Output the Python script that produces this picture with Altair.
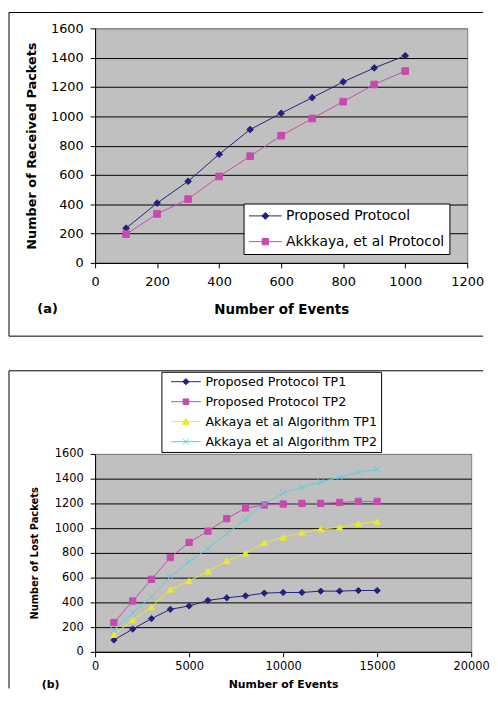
import altair as alt
import pandas as pd

# ---------------- data ----------------
events_a = [100, 200, 300, 400, 500, 600, 700, 800, 900, 1000]
proposed_a = [237, 408, 557, 741, 910, 1021, 1127, 1235, 1330, 1413]
akkkaya_a = [196, 334, 435, 590, 728, 868, 985, 1100, 1217, 1309]
series_a = ["Proposed Protocol", "Akkkaya, et al Protocol"]

events_b = [1000, 2000, 3000, 4000, 5000, 6000, 7000, 8000, 9000, 10000,
            11000, 12000, 13000, 14000, 15000]
prop_tp1_b = [96, 184, 269, 344, 371, 416, 437, 453, 475, 480, 480, 491, 491, 496, 496]
prop_tp2_b = [237, 411, 587, 763, 885, 976, 1077, 1163, 1187, 1195, 1200, 1200, 1208, 1216, 1216]
akk_tp1_b = [139, 256, 363, 504, 573, 651, 736, 797, 883, 925, 963, 992, 1008, 1037, 1053]
akk_tp2_b = [176, 315, 445, 608, 731, 835, 955, 1072, 1195, 1285, 1331, 1373, 1411, 1453, 1475]
series_b = ["Proposed Protocol TP1", "Proposed Protocol TP2",
            "Akkaya et al Algorithm TP1", "Akkaya et al Algorithm TP2"]

ticks_a_x = [0, 200, 400, 600, 800, 1000, 1200]
ticks_b_x = [0, 5000, 10000, 15000, 20000]
ticks_y = [0, 200, 400, 600, 800, 1000, 1200, 1400, 1600]
panel_labels = ["(a)", "(b)"]

# ---------------- styles ----------------
NAVY = "#22227A"
MAGENTA = "#C64BAF"
YELLOW = "#EAEA30"
CYAN = "#62C9DA"
FONT = "DejaVu Sans"

colors_a = [NAVY, MAGENTA]
colors_b = [NAVY, MAGENTA, YELLOW, CYAN]
fills_b = [NAVY, MAGENTA, YELLOW, "transparent"]
shapes_a = ["diamond", "square"]
XPATH = "M-1,-1L1,1M-1,1L1,-1"
shapes_b = ["diamond", "square", "triangle-up", XPATH]

# legend glyphs: a line with the series marker in the middle (unit = half symbol size)
LINE_A = "M-2.36,0L2.36,0"
leg_a_paths = [LINE_A + "M0,-0.5L0.5,0L0,0.5L-0.5,0Z",
               LINE_A + "M-0.45,-0.45L0.45,-0.45L0.45,0.45L-0.45,0.45Z"]
LINE_B = "M-2.4,0L2.4,0"
leg_b_paths = [LINE_B + "M0,-0.5L0.5,0L0,0.5L-0.5,0Z",
               LINE_B + "M-0.45,-0.45L0.45,-0.45L0.45,0.45L-0.45,0.45Z",
               LINE_B + "M0,-0.55L0.55,0.45L-0.55,0.45Z",
               LINE_B + "M-0.45,-0.45L0.45,0.45M-0.45,0.45L0.45,-0.45"]

df_a = pd.DataFrame({
    "events": events_a * 2,
    "value": proposed_a + akkkaya_a,
    "series": [series_a[0]] * len(events_a) + [series_a[1]] * len(events_a),
})
df_b = pd.DataFrame({
    "events": events_b * 4,
    "value": prop_tp1_b + prop_tp2_b + akk_tp1_b + akk_tp2_b,
    "series": sum([[s] * len(events_b) for s in series_b], []),
})

one = alt.Data(values=[{"k": 0}])


def grid_color():
    return {"condition": {"test": "datum.value === 1600", "value": "#808080"}, "value": "black"}


def rule(**enc):
    return alt.Chart(one).mark_rule(color="black", strokeWidth=1).encode(**enc)


def axis(values, title, lfs, tfs, grid, lpad, tpad):
    kw = dict(values=values, title=title, grid=grid, labelFont=FONT, labelFontSize=lfs,
              titleFont=FONT, titleFontSize=tfs, titleFontWeight="bold", tickSize=5,
              labelPadding=lpad, titlePadding=tpad, domainColor="black", tickColor="black",
              labelColor="black", titleColor="black", labelFlush=False, labelOverlap=False,
              format="d", tickCount=len(values))
    if grid:
        kw.update(gridColor=grid_color(), gridWidth=1)
    return alt.Axis(**kw)


def panel(df, series, colors, fills, shapes, leg_paths, xdom, ydom, xaxis, yaxis,
          w, h, legend_kw, leg_size, pt_size, borders, label):
    x = alt.X("events:Q", scale=alt.Scale(domain=xdom, nice=False), axis=xaxis)
    y = alt.Y("value:Q", scale=alt.Scale(domain=ydom, nice=False), axis=yaxis)
    lines = alt.Chart(df).mark_line(strokeWidth=1).encode(
        x=x, y=y,
        color=alt.Color("series:N", scale=alt.Scale(domain=series, range=colors), legend=None),
    )
    points = alt.Chart(df).mark_point(filled=True, opacity=1, size=pt_size, strokeWidth=1).encode(
        x=alt.X("events:Q", axis=xaxis), y=alt.Y("value:Q", axis=yaxis),
        shape=alt.Shape("series:N", scale=alt.Scale(domain=series, range=shapes), legend=None),
        fill=alt.Fill("series:N", scale=alt.Scale(domain=series, range=fills), legend=None),
        stroke=alt.Stroke("series:N", scale=alt.Scale(domain=series, range=colors), legend=None),
    )
    legend = alt.Legend(orient="none", title=None, direction="vertical", fillColor="white",
                        strokeColor="black", symbolSize=leg_size, symbolStrokeWidth=1,
                        labelFont=FONT, labelColor="black", labelLimit=0, **legend_kw)
    leg_layer = alt.Chart(df).transform_filter("false").mark_point(
        filled=True, opacity=1, size=leg_size, strokeWidth=1).encode(
        x=alt.X("events:Q", axis=xaxis), y=alt.Y("value:Q", axis=yaxis),
        shape=alt.Shape("series:N", sort=series,
                        scale=alt.Scale(domain=series, range=leg_paths), legend=legend),
        fill=alt.Fill("series:N", sort=series,
                      scale=alt.Scale(domain=series, range=fills), legend=legend),
        stroke=alt.Stroke("series:N", sort=series,
                          scale=alt.Scale(domain=series, range=colors), legend=legend),
    )
    return alt.layer(*borders, lines, points, leg_layer, label).resolve_scale(
        shape="independent", fill="independent", stroke="independent"
    ).properties(width=w, height=h)


# ---------------- panel (a) ----------------
label_a = alt.Chart(one).mark_text(font=FONT, fontSize=13, fontWeight="bold",
                                   align="center", baseline="middle", color="black").encode(
    x=alt.value(-48), y=alt.value(284), text=alt.value(panel_labels[0]))
border_a = [
    rule(x=alt.value(-87), y=alt.value(-16), y2=alt.value(311)),
    rule(x=alt.value(-87), x2=alt.value(392), y=alt.value(-16)),
    rule(x=alt.value(-87), x2=alt.value(392), y=alt.value(311)),
]
chart_a = panel(
    df_a, series_a, colors_a, colors_a, shapes_a, leg_a_paths, [0, 1200], [0, 1600],
    axis(ticks_a_x, "Number of Events", 13, 13.5, False, 8, 14),
    axis(ticks_y, "Number of Received Packets", 13, 13, True, 7, 12),
    376, 237,
    dict(legendX=150, legendY=177, padding=5, rowPadding=11, labelFontSize=14,
         labelOffset=13.5, symbolOffset=9.5),
    196, 45, border_a, label_a)

# ---------------- panel (b) ----------------
label_b = alt.Chart(one).mark_text(font=FONT, fontSize=11, fontWeight="bold",
                                   align="center", baseline="middle", color="black").encode(
    x=alt.value(-45), y=alt.value(233), text=alt.value(panel_labels[1]))
border_b = [
    rule(x=alt.value(-87), y=alt.value(-84), y2=alt.value(237)),
    rule(x=alt.value(-87), x2=alt.value(392), y=alt.value(-84)),
]
chart_b = panel(
    df_b, series_b, colors_b, fills_b, shapes_b, leg_b_paths, [0, 20000], [0, 1600],
    axis(ticks_b_x, "Number of Events", 11.5, 11, False, 4, 6),
    axis(ticks_y, "Number of Lost Packets", 11.5, 10, True, 7, 15),
    380, 200,
    dict(legendX=67, legendY=-83, padding=3, rowPadding=6.2, labelFontSize=12.8,
         labelOffset=12.75, symbolOffset=14.75),
    156.25, 40, border_b, label_b)

chart = alt.vconcat(chart_a, chart_b, spacing=33).resolve_scale(
    color="independent", fill="independent", stroke="independent", shape="independent",
    x="independent", y="independent",
).properties(
    padding={"left": 0, "top": 0, "right": 0, "bottom": 0},
    autosize=alt.AutoSizeParams(type="pad"),
    background="white",
).configure_view(fill="#C0C0C0", stroke="#808080", strokeWidth=1)

chart.save("out.html", embed_options={"renderer": "svg", "actions": False})
